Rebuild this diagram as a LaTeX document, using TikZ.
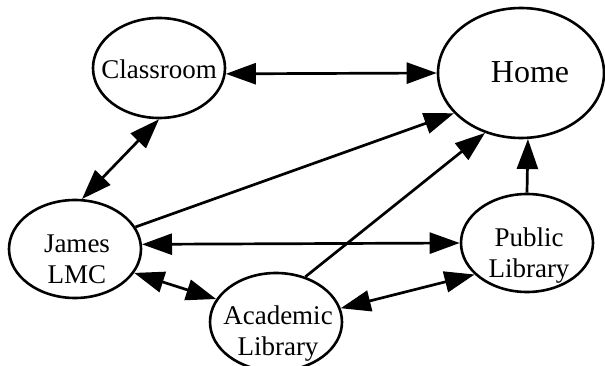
\documentclass[tikz,border=0pt]{standalone}
\usepackage{fontspec}
\setmainfont{Liberation Serif}
\usetikzlibrary{arrows.meta,shapes.geometric}
\begin{document}
\begin{tikzpicture}[x=1pt,y=-1pt,
  place/.style={draw, ellipse, line width=2.6pt, inner sep=0pt,
    minimum width=132pt, minimum height=98pt},
  txt/.style={align=center, inner sep=0pt, font=\fontsize{27}{31}\selectfont},
  tip/.tip={Triangle[length=30pt,width=21pt]},
  oneway/.style={line width=2.7pt, -tip},
  twoway/.style={line width=2.7pt, tip-tip}]
\useasboundingbox (0,0) rectangle (605,366);

% locations
\node[place, minimum height=100pt] (class) at (159,68) {};
\node[place, minimum width=166pt, minimum height=130pt] (home) at (521,73) {};
\node[place] (james) at (75,249) {};
\node[place] (public) at (527,243) {};
\node[place] (acad) at (276,322) {};

% labels
\node[txt] (classT) at (159,69.3) {Classroom};
\node[txt, font=\fontsize{32}{37}\selectfont] (homeT) at (530,72.5) {Home};
\node[txt] (jamesT) at (77,259) {James\\LMC};
\node[txt] (publicT) at (529,256) {Public\\Library};
\node[txt] (acadT) at (278,334) {Academic\\Library};

% connections
\draw[twoway] (class.-5) -- (home.180);
\draw[twoway] (class.-90) -- (james.82);
\draw[oneway] (james.20) -- (home.-149);
\draw[twoway] (james.4) -- (public.180);
\draw[twoway] (james.-22) -- (acad.159);
\draw[oneway] (acad.57) -- (home.-121);
\draw[oneway] (public.90) -- (home.-84);
\draw[twoway] (acad.12) -- (public.-149);
\end{tikzpicture}
\end{document}
